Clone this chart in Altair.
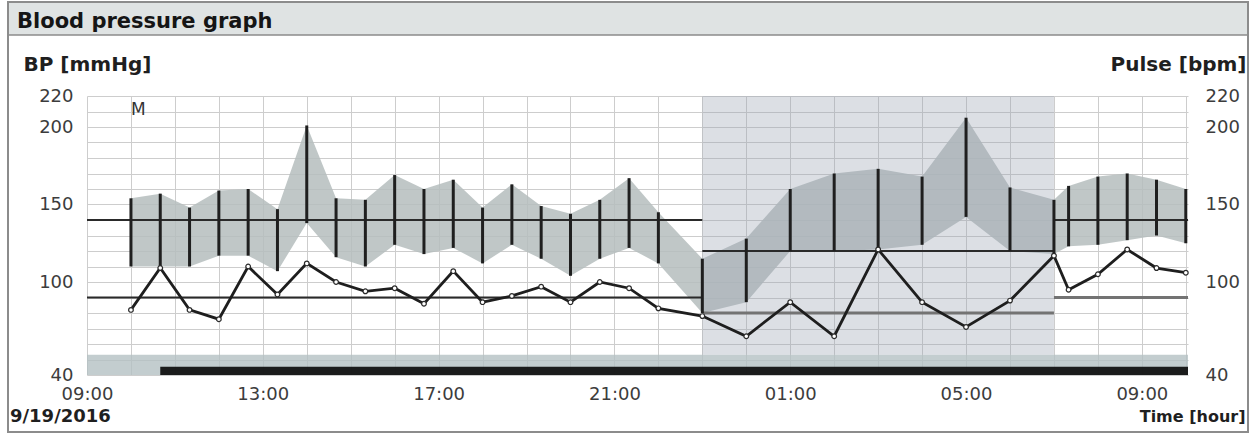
import altair as alt
import pandas as pd

# ---- 24 h ambulatory record ------------------------------------------------
record_date = "9/19/2016"
chart_title = "Blood pressure graph"

times = ["10:00", "10:40", "11:20", "12:00", "12:40", "13:20", "14:00", "14:40",
         "15:20", "16:00", "16:40", "17:20", "18:00", "18:40", "19:20", "20:00",
         "20:40", "21:20", "22:00", "23:00", "00:00", "01:00", "02:00", "03:00",
         "04:00", "05:00", "06:00", "07:00", "07:20", "08:00", "08:40", "09:20",
         "10:00"]
systolic = [154, 157, 148, 159, 160, 147, 201, 154, 153, 169, 160, 166, 148,
            163, 149, 144, 153, 167, 145, 115, 128, 160, 170, 173, 168, 206,
            161, 153, 162, 168, 170, 166, 160]
diastolic = [110, 110, 110, 117, 117, 107, 138, 116, 110, 124, 118, 122, 112,
             124, 115, 104, 115, 122, 112, 80, 87, 120, 120, 121, 124, 142,
             120, 118, 123, 124, 127, 130, 125]
pulse = [82, 109, 82, 76, 110, 92, 112, 100, 94, 96, 86, 107, 87, 91, 97, 87,
         100, 96, 83, 78, 65, 87, 65, 121, 87, 71, 88, 117, 95, 105, 121, 109,
         106]

# (clock time, day index) of the graph window, night period and recording bar
window = [("09:00", 0), ("10:03", 1)]
night = [("23:00", 0), ("07:00", 1)]
recording = [("10:40", 0), ("10:03", 1)]

# limit lines per period (systolic / diastolic)
limit_period = ["day", "night", "morning"]
limit_start = [("09:00", 0), ("23:00", 0), ("07:00", 1)]
limit_end = [("23:00", 0), ("07:00", 1), ("10:03", 1)]
limit_sys = [140, 120, 140]
limit_dia = [90, 80, 90]

# axis tick labels
bp_labels = [40, 100, 150, 200, 220]
annotation = "M"

START_HOUR = 9


def at(clock, day):
    """(clock, day) -> hours elapsed since the 09:00 start."""
    hh, mm = (int(p) for p in clock.split(":"))
    return hh + mm / 60 + 24 * day - START_HOUR


def sequence_hours(seq):
    """Ordered clock strings -> elapsed hours, rolling over midnight."""
    out, day, prev = [], 0, None
    for t in seq:
        v = at(t, day)
        if prev is not None and v < prev:
            day += 1
            v = at(t, day)
        prev = v
        out.append(v)
    return out


t0, t_end = at(*window[0]), at(*window[1])

meas = pd.DataFrame({
    "h": sequence_hours(times),
    "sys": systolic,
    "dia": diastolic,
    "pulse": pulse,
})
night_df = pd.DataFrame({"start": [at(*night[0])], "end": [at(*night[1])]})
rec_df = pd.DataFrame({"start": [at(*recording[0])], "end": [at(*recording[1])]})
window_df = pd.DataFrame({"start": [t0], "end": [t_end]})
limits = pd.DataFrame({
    "period": limit_period,
    "start": [at(*p) for p in limit_start],
    "end": [at(*p) for p in limit_end],
    "sys": limit_sys,
    "dia": limit_dia,
})

W, H = 1101, 279
FONT = "DejaVu Sans"
INK = "#1f1f1f"
GRID = "#cdcdcd"

xs = alt.Scale(domain=[t0, t_end], nice=False, zero=False)
ys = alt.Scale(domain=[40, 220], nice=False, zero=False)

x_axis = alt.Axis(
    values=list(range(0, 26)), grid=True, gridColor=GRID, gridWidth=1,
    ticks=False, tickSize=0, domain=False,
    labelExpr=(f"datum.value % 4 === 0 ? ((({START_HOUR} + datum.value) % 24) < 10 ? '0' : '')"
               f" + (({START_HOUR} + datum.value) % 24) + ':00' : ''"),
    labelFont=FONT, labelFontSize=18, labelColor="#3c3c3c", labelPadding=10,
    labelOverlap=False, labelFlush=False, labelBound=False,
    title="Time [hour]", titleFont=FONT, titleFontSize=16, titleFontWeight="bold",
    titleColor=INK, titleX=W + 57, titleY=46, titleAlign="right",
    titleBaseline="alphabetic", titleAngle=0,
)
label_test = f"indexof({bp_labels}, datum.value) >= 0 ? datum.label : ''"
left_axis = alt.Axis(
    values=list(range(40, 221, 10)), grid=True, gridColor=GRID, gridWidth=1,
    ticks=False, tickSize=0, domain=False, labelExpr=label_test,
    labelFont=FONT, labelFontSize=18, labelColor="#3c3c3c", labelPadding=14,
    labelOverlap=False, labelBound=False, labelFlush=False,
    title="BP [mmHg]", titleFont=FONT, titleFontSize=20, titleFontWeight="bold",
    titleColor=INK, titleAngle=0, titleAlign="left", titleBaseline="alphabetic",
    titleX=-64, titleY=-26,
)
right_axis = alt.Axis(
    orient="right", values=bp_labels, grid=False,
    ticks=False, tickSize=0, domain=False,
    labelFont=FONT, labelFontSize=18, labelColor="#3c3c3c", labelPadding=17,
    labelAlign="left", labelOverlap=False, labelBound=False, labelFlush=False,
    title="Pulse [bpm]", titleFont=FONT, titleFontSize=20, titleFontWeight="bold",
    titleColor=INK, titleAngle=0, titleAlign="right", titleBaseline="alphabetic",
    titleX=58, titleY=-26,
)

# night shading and the bottom status band
night_rect = alt.Chart(night_df).mark_rect(color="#9ba4b2", opacity=0.35).encode(
    x=alt.X("start:Q", scale=xs, axis=None), x2="end:Q",
    y=alt.Y(datum=220, scale=ys, axis=None), y2=alt.Y2(datum=53),
)
band = alt.Chart(window_df).mark_rect(color="#b4c1c3", opacity=0.8).encode(
    x=alt.X("start:Q", scale=xs, axis=None), x2="end:Q",
    y=alt.Y(datum=53, scale=ys, axis=None), y2=alt.Y2(datum=40),
)
rec_bar = alt.Chart(rec_df).mark_rect(color="#121212", opacity=0.95).encode(
    x=alt.X("start:Q", scale=xs, axis=None), x2="end:Q",
    y=alt.Y(datum=45.4, scale=ys, axis=None), y2=alt.Y2(datum=40),
)

# systolic–diastolic envelope (carries the x and left axes)
area = alt.Chart(meas).mark_area(color="#b5bdbd", opacity=0.85).encode(
    x=alt.X("h:Q", scale=xs, axis=x_axis),
    y=alt.Y("sys:Q", scale=ys, axis=left_axis),
    y2="dia:Q",
)

# limit lines
sys_lim = alt.Chart(limits).mark_rule(color="#2a2a2a", strokeWidth=2).encode(
    x=alt.X("start:Q", scale=xs, axis=None), x2="end:Q",
    y=alt.Y("sys:Q", scale=ys, axis=None),
)
dia_lim = alt.Chart(limits).mark_rule().encode(
    x=alt.X("start:Q", scale=xs, axis=None), x2="end:Q",
    y=alt.Y("dia:Q", scale=ys, axis=None),
    color=alt.condition("datum.period === 'day'", alt.value("#2a2a2a"), alt.value("#737373")),
    strokeWidth=alt.condition("datum.period === 'day'", alt.value(2), alt.value(3)),
)

# measurement bars
bars = alt.Chart(meas).mark_rule(color=INK, strokeWidth=3).encode(
    x=alt.X("h:Q", scale=xs, axis=None),
    y=alt.Y("sys:Q", scale=ys, axis=None),
    y2="dia:Q",
)

# pulse curve (carries the right axis)
pulse_line = alt.Chart(meas).mark_line(color="#1e1e1e", strokeWidth=2.8).encode(
    x=alt.X("h:Q", scale=xs, axis=None),
    y=alt.Y("pulse:Q", scale=ys, axis=right_axis),
)
pulse_pts = alt.Chart(meas).mark_point(
    shape="circle", fill="white", fillOpacity=1, stroke="#2b2b2b",
    strokeWidth=1.2, size=22, opacity=1,
).encode(
    x=alt.X("h:Q", scale=xs, axis=None),
    y=alt.Y("pulse:Q", scale=ys, axis=None),
)

note = alt.Chart(meas.head(1).assign(txt=annotation)).mark_text(
    font=FONT, fontSize=17, color="#333333", align="left", baseline="alphabetic",
).encode(
    x=alt.X("h:Q", scale=xs, axis=None), y=alt.value(19), text="txt:N",
)

# frame, header bar and header texts
frame = alt.Chart(window_df).mark_rect(
    fillOpacity=0, stroke="#8c8c8c", strokeWidth=2,
).encode(x=alt.value(-79), x2=alt.value(W + 60), y=alt.value(-94), y2=alt.value(H + 57))
header = alt.Chart(window_df).mark_rect(
    fill="#dfe3e3", stroke="#8c8c8c", strokeWidth=1.5,
).encode(x=alt.value(-79), x2=alt.value(W + 60), y=alt.value(-94), y2=alt.value(-61))
title_txt = alt.Chart(pd.DataFrame({"t": [chart_title]})).mark_text(
    font=FONT, fontSize=21, fontWeight="bold", color="#151515",
    align="left", baseline="alphabetic",
).encode(x=alt.value(-70), y=alt.value(-68), text="t:N")
date_txt = alt.Chart(pd.DataFrame({"t": [record_date]})).mark_text(
    font=FONT, fontSize=18, fontWeight="bold", color=INK,
    align="left", baseline="alphabetic",
).encode(x=alt.value(-77), y=alt.value(H + 47), text="t:N")

chart = alt.layer(
    area, night_rect, band, rec_bar, sys_lim, dia_lim, bars,
    pulse_line, pulse_pts, note, header, title_txt, frame, date_txt,
).resolve_axis(x="independent", y="independent").properties(
    width=W, height=H,
    autosize=alt.AutoSizeParams(type="none"),
    padding={"left": 87, "top": 96, "right": 62, "bottom": 59},
    background="white",
).configure_view(strokeWidth=0)

chart.save("out.html", embed_options={"renderer": "svg", "actions": False})
